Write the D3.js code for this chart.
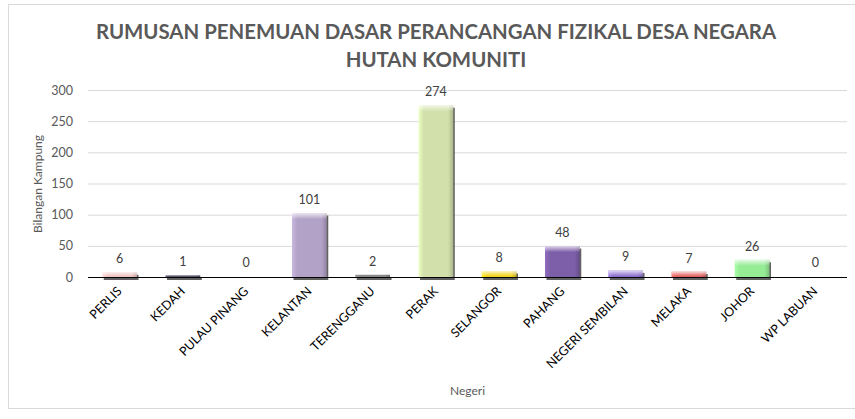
<!DOCTYPE html>
<html>
<head>
<meta charset="utf-8">
<script src="https://cdn.jsdelivr.net/npm/d3@7"></script>
<style>
  body { margin: 0; background: #fff; }
  svg { display: block; font-family: Lato, "Open Sans", sans-serif; }
</style>
</head>
<body>
<svg></svg>
<script>
let width = 855;
let height = 419;

// data
let states = ["PERLIS", "KEDAH", "PULAU PINANG", "KELANTAN", "TERENGGANU", "PERAK",
              "SELANGOR", "PAHANG", "NEGERI SEMBILAN", "MELAKA", "JOHOR", "WP LABUAN"];
let kampung = [6, 1, 0, 101, 2, 274, 8, 48, 9, 7, 26, 0];
let yTicks = [0, 50, 100, 150, 200, 250, 300];
let barColors = ["#efc3c1", "#5d5772", "#b3a2c7", "#b3a2c7", "#8a8a8a", "#d2e1ab",
                 "#f2d31b", "#7d5fa9", "#8e70cf", "#e46464", "#95ec95", "#cccccc"];

let plotLeft = 88, plotRight = 847, plotTop = 90, plotBottom = 277;

let svg = d3.select("svg")
            .attr("width", width)
            .attr("height", height)

// chart frame
svg.append("rect")
    .attr("x", 8.5)
    .attr("y", 4.5)
    .attr("width", width)
    .attr("height", 404)
    .attr("fill", "none")
    .attr("stroke", "#d9d9d9")

let xScale = d3.scaleBand()
                .domain(states)
                .range([plotLeft, plotRight])
                .paddingInner(0.45)
                .paddingOuter(0.225)

let yScale = d3.scaleLinear()
                .domain([0, 300])
                .range([plotBottom, plotTop])

let yAxis = d3.axisLeft(yScale)
                .tickValues(yTicks)
                .tickSize(-(plotRight - plotLeft))
                .tickPadding(15)

let gy = svg.append("g")
    .attr("transform", "translate(" + plotLeft + ", 0)")
    .call(yAxis)

gy.select(".domain").remove()
gy.selectAll(".tick line").attr("stroke", "#d9d9d9")
gy.selectAll(".tick text")
    .attr("fill", "#595959")
    .style("font-size", "12.5px")
    .style("font-family", "Lato, sans-serif")

// gradients for the bevelled bars
let defs = svg.append("defs")
barColors.forEach((c, i) => {
    let g = defs.append("linearGradient")
        .attr("id", "grad" + i)
        .attr("x1", "0").attr("x2", "1").attr("y1", "0").attr("y2", "0")
    g.append("stop").attr("offset", "0").attr("stop-color", d3.color(c).brighter(0.35))
    g.append("stop").attr("offset", "0.15").attr("stop-color", c)
    g.append("stop").attr("offset", "0.85").attr("stop-color", c)
    g.append("stop").attr("offset", "1").attr("stop-color", d3.color(c).darker(0.6))
})
let hl = defs.append("linearGradient")
    .attr("id", "tophl")
    .attr("x1", "0").attr("x2", "0").attr("y1", "0").attr("y2", "1")
hl.append("stop").attr("offset", "0").attr("stop-color", "#fff").attr("stop-opacity", 0.75)
hl.append("stop").attr("offset", "1").attr("stop-color", "#fff").attr("stop-opacity", 0)

let rows = states.map((s, i) => ({ state: s, value: kampung[i], i: i })).filter(d => d.value > 0)

// shadow behind bars
svg.append("g")
    .selectAll("rect")
    .data(rows)
    .enter()
    .append("rect")
    .attr("x", d => xScale(d.state) + 1.5)
    .attr("y", d => yScale(d.value) + 1.5)
    .attr("width", xScale.bandwidth())
    .attr("height", d => plotBottom - yScale(d.value) + 1.5)
    .attr("fill", "#3a3a3a")
    .attr("opacity", 0.8)

svg.append("g")
    .selectAll("rect")
    .data(rows)
    .enter()
    .append("rect")
    .attr("x", d => xScale(d.state))
    .attr("y", d => yScale(d.value) - 1)
    .attr("width", xScale.bandwidth())
    .attr("height", d => plotBottom - yScale(d.value) + 1)
    .attr("fill", d => "url(#grad" + d.i + ")")

// top highlight
svg.append("g")
    .selectAll("rect")
    .data(rows.filter(d => d.value > 3))
    .enter()
    .append("rect")
    .attr("x", d => xScale(d.state))
    .attr("y", d => yScale(d.value) - 1)
    .attr("width", xScale.bandwidth())
    .attr("height", d => Math.min(6, plotBottom - yScale(d.value)))
    .attr("fill", "url(#tophl)")

// baseline
svg.append("line")
    .attr("x1", plotLeft)
    .attr("x2", plotRight)
    .attr("y1", plotBottom + 0.5)
    .attr("y2", plotBottom + 0.5)
    .attr("stroke", "#000")

// value labels
svg.append("g")
    .selectAll("text")
    .data(kampung)
    .enter()
    .append("text")
    .attr("x", (d, i) => xScale(states[i]) + xScale.bandwidth() / 2)
    .attr("y", d => yScale(d) - 10)
    .attr("text-anchor", "middle")
    .attr("fill", "#404040")
    .style("font-size", "12.5px")
    .text(d => d)

// category labels
svg.append("g")
    .selectAll("text")
    .data(states)
    .enter()
    .append("text")
    .attr("transform", d => "translate(" + (xScale(d) + xScale.bandwidth() / 2 + 3) + "," + 292 + ") rotate(-45)")
    .attr("text-anchor", "end")
    .attr("fill", "#000")
    .style("font-size", "12.5px")
    .text(d => d)

// axis titles
svg.append("text")
    .attr("x", (plotLeft + plotRight) / 2)
    .attr("y", 395)
    .attr("text-anchor", "middle")
    .attr("fill", "#595959")
    .style("font-size", "12px")
    .text("Negeri")

svg.append("text")
    .attr("transform", "translate(42, 184) rotate(-90)")
    .attr("text-anchor", "middle")
    .attr("fill", "#595959")
    .style("font-size", "12px")
    .text("Bilangan Kampung")

// title
let title = svg.append("g")
    .attr("fill", "#595959")
    .style("font-weight", "bold")
    .style("font-size", "20.4px")
    .attr("text-anchor", "middle")

title.append("text")
    .attr("x", 436)
    .attr("y", 39)
    .text("RUMUSAN PENEMUAN DASAR PERANCANGAN FIZIKAL DESA NEGARA")

title.append("text")
    .attr("x", 436)
    .attr("y", 67)
    .text("HUTAN KOMUNITI")
</script>
</body>
</html>
